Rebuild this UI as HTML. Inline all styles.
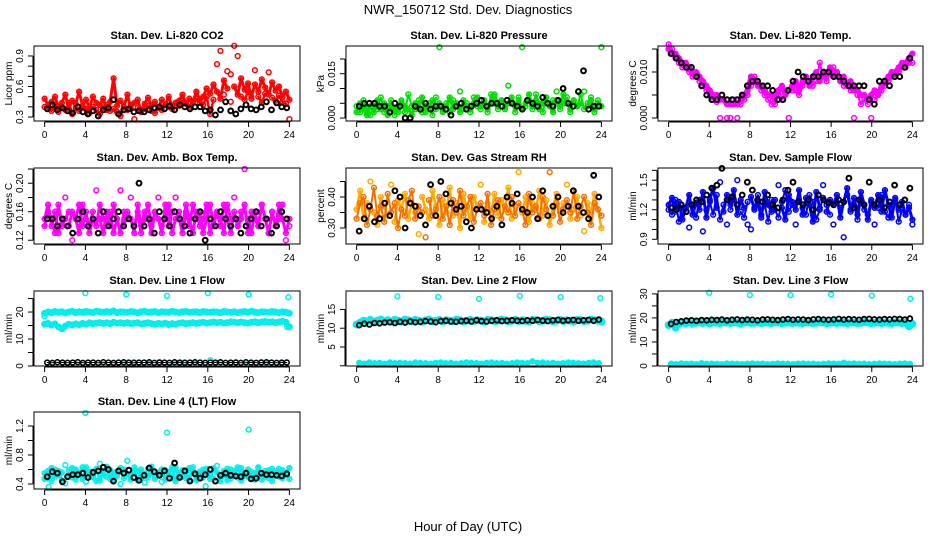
<!DOCTYPE html>
<html><head><meta charset="utf-8"><title>NWR_150712 Std. Dev. Diagnostics</title>
<style>
html,body{margin:0;padding:0;background:#fff;}
svg{display:block;font-family:"Liberation Sans",Arial,sans-serif;}
</style></head>
<body>
<svg id="chart" width="936" height="540" viewBox="0 0 936 540" xmlns="http://www.w3.org/2000/svg">
<rect x="0" y="0" width="936" height="540" fill="#fff"/>
<text x="468" y="14" text-anchor="middle" font-size="13">NWR_150712 Std. Dev. Diagnostics</text>
<text x="468" y="531" text-anchor="middle" font-size="13">Hour of Day (UTC)</text>
</svg>
<script>
// ---------- DATA ----------
const hourTicks = [0,4,8,12,16,20,24];

const co2Main = [0.48,0.42,0.45,0.50,0.40,0.44,0.52,0.38,0.46,0.43,0.55,0.41,0.47,0.39,0.50,0.44,0.42,0.48,0.37,0.45,0.68,0.41,0.46,0.40,0.52,0.38,0.44,0.47,0.36,0.43,0.49,0.41,0.45,0.39,0.47,0.42,0.50,0.40,0.44,0.46,0.52,0.43,0.48,0.45,0.55,0.47,0.50,0.58,0.53,0.62,0.55,0.48,0.66,0.58,0.72,0.60,0.52,0.68,0.57,0.63,0.50,0.62,0.55,0.67,0.59,0.52,0.64,0.56,0.60,0.50,0.55,0.47];
const co2Alt = [0.40,0.38,0.36,0.42,0.35,0.40,0.37,0.44,0.33,0.39,0.36,0.41,0.38,0.34,0.40,0.37,0.33,0.39,0.42,0.36,0.38,0.35,0.31,0.40,0.37,0.42,0.28,0.39,0.35,0.38,0.41,0.36,0.34,0.39,0.37,0.42,0.40,0.38,0.44,0.41,0.46,0.43,0.40,0.45,0.48,0.44,0.42,0.50,0.33,0.47,0.82,0.95,0.52,0.75,0.45,1.00,0.90,0.50,0.47,0.55,0.48,0.76,0.50,0.44,0.53,0.74,0.49,0.46,0.51,0.45,0.43,0.28];
const co2Black = [0.38,0.42,0.37,0.39,0.36,0.34,0.40,0.35,0.33,0.36,0.31,0.37,0.39,0.47,0.33,0.37,0.38,0.35,0.36,0.35,0.37,0.39,0.40,0.38,0.41,0.37,0.42,0.40,0.38,0.40,0.40,0.36,0.37,0.32,0.37,0.45,0.36,0.33,0.38,0.42,0.38,0.37,0.40,0.45,0.37,0.44,0.40,0.39];

const presMain = [0.004,0.002,0.006,0.003,0.001,0.005,0.003,0.007,0.002,0.004,0.006,0.001,0.003,0.005,0.002,0.008,0.004,0.003,0.006,0.002,0.004,0.005,0.001,0.007,0.024,0.003,0.005,0.002,0.006,0.004,0.009,0.003,0.005,0.002,0.007,0.004,0.003,0.006,0.002,0.008,0.005,0.003,0.006,0.004,0.011,0.005,0.002,0.007,0.024,0.004,0.006,0.003,0.008,0.005,0.002,0.007,0.004,0.006,0.009,0.003,0.005,0.007,0.002,0.006,0.004,0.008,0.003,0.005,0.007,0.002,0.006,0.024];
const presAlt = [0.002,0.005,0.003,0.001,0.004,0.002,0.006,0.003,0.005,0.001,0.004,0.003,0.002,0.006,0.004,0.003,0.001,0.005,0.003,0.007,0.002,0.004,0.006,0.003,0.005,0.002,0.004,0.007,0.003,0.005,0.002,0.006,0.004,0.003,0.005,0.007,0.004,0.006,0.003,0.005,0.008,0.004,0.006,0.003,0.005,0.007,0.004,0.006,0.003,0.005,0.008,0.004,0.006,0.003,0.005,0.007,0.004,0.002,0.006,0.004,0.008,0.005,0.003,0.006,0.004,0.005,0.009,0.004,0.006,0.003,0.005,0.004];
const presBlack = [0.004,0.005,0.005,0.005,0.004,0.004,0.002,0.005,0.004,0.000,0.000,0.004,0.003,0.005,0.003,0.004,0.004,0.003,0.001,0.004,0.005,0.003,0.004,0.005,0.006,0.004,0.005,0.005,0.004,0.006,0.005,0.004,0.003,0.006,0.005,0.004,0.007,0.005,0.004,0.006,0.010,0.005,0.004,0.009,0.016,0.003,0.004,0.004];

const tempMain = [0.015,0.014,0.014,0.013,0.012,0.012,0.011,0.010,0.010,0.009,0.008,0.007,0.006,0.005,0.005,0.004,0.004,0.003,0.003,0.003,0.003,0.004,0.005,0.006,0.009,0.008,0.007,0.007,0.006,0.005,0.005,0.004,0.006,0.007,0.005,0.006,0.007,0.008,0.006,0.008,0.009,0.007,0.009,0.010,0.008,0.010,0.009,0.011,0.009,0.010,0.008,0.009,0.007,0.008,0.006,0.006,0.005,0.005,0.004,0.005,0.006,0.005,0.007,0.008,0.009,0.010,0.010,0.011,0.012,0.012,0.013,0.014];
const tempAlt = [0.016,0.015,0.013,0.012,0.011,0.011,0.010,0.009,0.009,0.008,0.007,0.006,0.005,0.004,0.0035,0.0,0.004,0.0,0.0,0.004,0.0,0.003,0.004,0.005,0.007,0.009,0.008,0.006,0.005,0.004,0.003,0.003,0.005,0.004,0.006,0.0,0.006,0.006,0.005,0.007,0.008,0.008,0.007,0.008,0.012,0.009,0.008,0.010,0.011,0.009,0.008,0.007,0.007,0.006,0.0,0.005,0.003,0.004,0.003,0.0,0.004,0.005,0.006,0.007,0.008,0.009,0.009,0.010,0.011,0.011,0.012,0.012];
const tempBlack = [0.014,0.013,0.012,0.011,0.011,0.009,0.007,0.005,0.004,0.004,0.005,0.004,0.004,0.004,0.005,0.007,0.008,0.008,0.007,0.007,0.006,0.004,0.004,0.006,0.008,0.010,0.009,0.008,0.009,0.009,0.010,0.010,0.009,0.009,0.008,0.007,0.007,0.007,0.007,0.004,0.003,0.008,0.008,0.007,0.009,0.009,0.011,0.013];

const ambMain = [0.15,0.17,0.14,0.16,0.13,0.15,0.18,0.14,0.16,0.15,0.13,0.17,0.15,0.14,0.16,0.19,0.15,0.13,0.16,0.14,0.17,0.15,0.13,0.16,0.15,0.18,0.14,0.16,0.13,0.15,0.17,0.14,0.16,0.15,0.13,0.17,0.14,0.16,0.18,0.15,0.13,0.16,0.14,0.17,0.15,0.16,0.13,0.15,0.17,0.14,0.16,0.15,0.13,0.17,0.15,0.18,0.14,0.16,0.22,0.15,0.13,0.16,0.14,0.17,0.15,0.13,0.16,0.14,0.17,0.15,0.13,0.15];
const ambAlt = [0.14,0.16,0.15,0.13,0.17,0.14,0.15,0.16,0.12,0.15,0.17,0.14,0.16,0.13,0.15,0.14,0.17,0.15,0.14,0.16,0.13,0.15,0.19,0.14,0.16,0.15,0.13,0.17,0.14,0.16,0.15,0.13,0.16,0.18,0.14,0.15,0.17,0.13,0.15,0.16,0.14,0.17,0.15,0.13,0.16,0.14,0.15,0.17,0.13,0.15,0.16,0.14,0.17,0.15,0.13,0.16,0.14,0.15,0.17,0.13,0.16,0.15,0.14,0.17,0.15,0.13,0.16,0.14,0.15,0.17,0.12,0.14];
const ambBlack = [0.15,0.15,0.14,0.15,0.14,0.13,0.15,0.16,0.14,0.15,0.13,0.16,0.14,0.15,0.16,0.14,0.15,0.14,0.20,0.14,0.15,0.13,0.16,0.15,0.14,0.16,0.15,0.14,0.13,0.15,0.16,0.12,0.15,0.14,0.16,0.15,0.14,0.15,0.13,0.14,0.15,0.16,0.14,0.15,0.13,0.14,0.16,0.15];

const rhMain = [0.36,0.42,0.33,0.38,0.45,0.35,0.31,0.40,0.37,0.34,0.44,0.32,0.39,0.36,0.41,0.33,0.38,0.35,0.28,0.40,0.36,0.33,0.42,0.37,0.31,0.39,0.35,0.43,0.34,0.38,0.30,0.41,0.36,0.33,0.40,0.37,0.44,0.32,0.38,0.35,0.41,0.34,0.39,0.36,0.43,0.33,0.37,0.48,0.35,0.40,0.32,0.38,0.36,0.42,0.34,0.39,0.31,0.37,0.41,0.35,0.38,0.44,0.33,0.36,0.40,0.34,0.29,0.38,0.35,0.41,0.36,0.30];
const rhAlt = [0.33,0.38,0.40,0.31,0.36,0.43,0.34,0.37,0.32,0.41,0.35,0.38,0.30,0.36,0.34,0.39,0.42,0.33,0.37,0.35,0.27,0.39,0.34,0.36,0.40,0.33,0.37,0.31,0.39,0.35,0.42,0.34,0.37,0.40,0.32,0.36,0.38,0.34,0.41,0.31,0.36,0.39,0.33,0.37,0.35,0.40,0.34,0.38,0.36,0.31,0.41,0.35,0.37,0.33,0.40,0.36,0.48,0.34,0.38,0.32,0.36,0.39,0.35,0.42,0.33,0.37,0.40,0.35,0.31,0.38,0.36,0.34];
const rhBlack = [0.29,0.33,0.37,0.32,0.33,0.38,0.34,0.42,0.40,0.30,0.38,0.37,0.34,0.31,0.44,0.34,0.45,0.41,0.38,0.36,0.37,0.32,0.30,0.36,0.36,0.35,0.33,0.37,0.31,0.40,0.38,0.41,0.36,0.35,0.40,0.33,0.42,0.34,0.37,0.40,0.35,0.37,0.42,0.37,0.35,0.33,0.47,0.40];

const flowMain = [1.25,1.32,1.18,1.28,1.10,1.22,1.35,1.15,1.27,1.20,1.38,1.12,1.30,1.42,1.22,1.48,1.18,1.35,1.25,1.40,1.15,1.30,1.22,1.05,1.33,1.20,1.28,1.12,1.38,1.25,1.18,1.30,1.45,1.22,1.10,1.35,1.28,1.20,1.40,1.15,1.32,1.25,1.08,1.38,1.22,1.45,1.18,1.30,1.25,1.35,1.12,1.28,1.42,1.20,1.32,1.15,1.38,1.25,1.10,1.30,1.22,1.35,1.18,1.40,1.25,1.12,1.32,1.20,1.28,1.15,1.22,1.10];
const flowAlt = [1.20,1.15,1.30,1.08,1.22,1.18,1.02,1.25,1.12,1.30,0.98,1.20,1.28,1.15,1.35,1.10,1.25,1.05,1.20,1.30,1.50,1.18,1.12,1.28,1.00,1.22,1.35,1.15,1.25,1.08,1.30,1.20,1.12,1.28,1.40,1.18,1.25,1.05,1.30,1.22,1.15,1.35,1.28,1.10,1.20,1.32,1.25,1.15,1.05,1.28,1.22,0.92,1.35,1.18,1.25,1.10,1.30,1.20,1.15,1.28,1.05,1.22,1.35,1.18,1.12,1.25,1.30,1.08,1.20,1.15,1.25,1.05];
const flowBlack = [1.22,1.20,1.25,1.18,1.25,1.30,1.28,1.35,1.42,1.45,1.62,1.30,1.33,1.25,1.35,1.48,1.40,1.30,1.28,1.35,1.25,1.22,1.30,1.40,1.48,1.28,1.25,1.30,1.20,1.35,1.30,1.27,1.25,1.30,1.28,1.52,1.22,1.30,1.25,1.48,1.25,1.30,1.22,1.28,1.45,1.25,1.30,1.42];

const line1Upper = [19.5,20,19.8,20.2,19.9,20.1,19.7,20,20.3,19.8,20.1,19.9,20.2,20,19.8,20.3,20.1,19.9,20.2,20,20.4,19.8,20.1,20,19.9,20.2,20,19.7,20.1,20.3,19.9,20,20.2,19.8,20.1,20,19.9,20.3,20,19.8,20.1,20.2,19.9,20,20.1,19.8,20.2,20,19.9,20.1,20,19.8,20.2,20,19.9,20.1,19.8,20,20.2,19.9,20.3,20,19.8,20.1,20,19.9,20.2,20,19.8,20.1,19.9,19.6];
const line1Lower = [15.5,15.8,15.2,15.6,14.5,13.8,14.8,15.5,15.2,15.6,15.3,15.8,15.5,16,15.7,15.9,16.1,15.8,16,15.7,16.2,15.9,16,15.8,16.1,15.7,15.9,16,15.6,15.8,16,15.7,15.5,15.8,15.6,15.9,15.4,15.7,15.5,15.9,16,15.7,15.9,16.1,15.8,16,16.2,15.9,16.1,16.3,16,16.2,15.9,16.1,16.4,16.2,16,16.3,16.1,15.9,16.2,16.4,16.1,16.3,16.5,16.2,16.4,16.1,16.3,16.6,16.2,14.5];
const line1Base = [1.2,1,1.4,1.1,1.3,1.2,1.5,1,1.2,1.3,1.1,1.4,1.2,1,1.3,1.2,1.1,1.4,1.2,1.3,1,1.2,1.5,1.1,1.3,1.2,1,1.4,1.2,1.1,1.3,1.2,2.2,1,1.3,1.2,1.1,1.4,1.2,1.3,1,1.2,1.5,1.1,1.3,1.2,1,1.4];
const line1Black = [1.3,1.2,1.4,1.3,1.2,1.3,1.4,1.2,1.3,1.3,1.2,1.4,1.3,1.2,1.3,1.4,1.3,1.2,1.3,1.3,1.4,1.2,1.3,1.3,1.2,1.4,1.3,1.2,1.3,1.4,1.3,1.2,1.3,1.3,1.4,1.2,1.3,1.3,1.2,1.4,1.3,1.2,1.3,1.4,1.3,1.2,1.3,1.3];
const line1OutHours = [0,4,8,12,16,20,23.9,23.8];
const line1OutVals = [18.5,27,26.5,26,27,26.5,25.5,14.5];

const line2Band = [11,11.5,12,11.8,12.2,11.6,12,12.3,11.9,12.1,11.7,12.2,12,11.8,12.3,12.1,11.9,12.2,12,11.7,12.1,12.3,11.9,12,12.2,11.8,12.1,12,11.9,12.3,12.1,11.8,12,12.2,11.9,12.1,12,11.8,12.2,12.1,11.9,12,12.3,12.1,11.8,12,12.2,11.9,12.1,12,11.8,12.2,12.1,11.9,12,12.3,12.1,11.8,12,12.2,11.9,12.1,12,11.8,12.2,12.1,11.9,12,12.3,12.1,12,11.8];
const line2Base = [0.8,0.6,0.9,0.7,0.8,0.6,0.9,0.7,0.8,0.7,0.6,0.9,0.8,0.7,0.6,0.8,0.9,0.7,0.8,0.6,0.7,0.9,0.8,0.7,0.6,0.8,0.9,0.7,0.8,0.6,0.7,0.9,0.8,0.7,1.2,0.8,0.9,0.7,0.8,0.6,0.7,0.9,0.8,0.7,0.6,0.8,0.9,0.7];
const line2Black = [10.8,11.2,11,11.4,11.3,11.5,11.6,11.4,11.7,11.5,11.8,11.6,11.7,11.9,11.8,11.6,11.9,12,11.8,11.7,11.9,12,11.8,12.1,11.9,11.8,12,12.1,11.9,12,12.1,12,11.9,12.1,12,12.2,12,11.9,12.1,12.2,12,12.1,12.2,12,12.1,12.2,12,12.3];
const line2OutHours = [4,8,12,16,20,23.9];
const line2OutVals = [18.5,18.3,17.8,18.6,18.3,18];

const line3Band = [17,18,16,17.5,18,17.8,18.2,17.6,18,18.3,17.9,18.1,17.7,18.2,18,17.8,18.3,18.1,17.9,18.2,18,17.7,18.1,18.3,17.9,18,18.2,17.8,18.1,18,17.9,18.3,18.1,17.8,18,18.2,17.9,18.1,18,17.8,18.2,18.1,17.9,18,18.3,18.1,17.8,18,18.2,17.9,18.1,18,17.8,18.2,18.1,17.9,18,18.3,18.1,17.8,18,18.2,17.9,18.1,18,17.8,18.2,18.1,17.9,18,16.5,17.5];
const line3Base = [1,0.8,1.1,0.9,1,0.8,1.2,0.9,1,0.9,0.8,1.1,1,0.9,0.8,1,1.1,0.9,1,0.8,0.9,1.1,1,0.9,0.8,1,1.1,0.9,1,0.8,0.9,1.1,1,0.9,1.4,1,1.1,0.9,1,0.8,0.9,1.1,1,0.9,0.8,1,1.1,0.9];
const line3Black = [17.5,18.3,18.6,18.9,19,18.8,19.1,19,19.2,19.1,19.3,19,19.2,19.4,19.1,19.3,19.2,19,19.3,19.4,19.2,19.1,19.3,19.5,19.2,19.4,19.3,19.1,19.4,19.5,19.3,19.2,19.4,19.6,19.3,19.5,19.4,19.2,19.5,19.6,19.4,19.3,19.5,19.4,19.6,19.5,19.3,19.7];
const line3OutHours = [4,8,12,16,20,23.8];
const line3OutVals = [30.5,29.5,29.5,29.8,29.3,28];

const line4Band = [0.55,0.48,0.62,0.50,0.58,0.45,0.66,0.52,0.49,0.60,0.54,0.47,0.63,0.51,0.57,0.44,0.68,0.53,0.50,0.59,0.46,0.55,0.62,0.48,0.72,0.52,0.57,0.45,0.60,0.54,0.49,0.64,0.51,0.56,0.43,0.59,0.53,0.48,0.62,0.55,0.50,0.58,0.46,0.63,0.52,0.57,0.49,0.61,0.54,0.47,0.65,0.51,0.58,0.45,0.60,0.53,0.49,0.62,0.55,0.50,0.57,0.46,0.63,0.52,0.58,0.48,0.61,0.54,0.50,0.59,0.53,0.47];
const line4Alt = [0.47,0.58,0.44,0.60,0.52,0.56,0.41,0.59,0.62,0.46,0.55,0.63,0.43,0.57,0.49,0.61,0.45,0.58,0.64,0.47,0.56,0.51,0.40,0.60,0.54,0.46,0.63,0.58,0.48,0.42,0.61,0.55,0.47,0.52,0.60,0.46,0.57,0.63,0.44,0.51,0.59,0.48,0.62,0.55,0.45,0.50,0.60,0.53,0.47,0.62,0.56,0.44,0.52,0.61,0.48,0.58,0.63,0.45,0.51,0.60,0.47,0.55,0.62,0.46,0.50,0.59,0.44,0.57,0.61,0.48,0.55,0.62];
const line4Black = [0.50,0.57,0.55,0.43,0.50,0.53,0.53,0.55,0.49,0.56,0.58,0.63,0.60,0.44,0.58,0.55,0.59,0.49,0.45,0.52,0.62,0.57,0.52,0.58,0.48,0.69,0.49,0.58,0.44,0.54,0.48,0.53,0.60,0.44,0.52,0.55,0.52,0.51,0.50,0.55,0.47,0.48,0.55,0.53,0.53,0.52,0.51,0.54];
const line4OutHours = [4,12,20,0.4,15.8];
const line4OutVals = [1.38,1.11,1.15,0.36,0.37];

// ---------- DRAWING ----------
const NS = "http://www.w3.org/2000/svg";
const svg = document.getElementById("chart");
const COLS = [[34,300],[346,612],[658,923]];
const ROWS = [[46,121],[168,244],[291,366],[412,489]];

function mk(tag, parent){ const e=document.createElementNS(NS,tag); parent.appendChild(e); return e; }

function panel(cfg){
  const [x0b,x1b]=COLS[cfg.col], [y0b,y1b]=ROWS[cfg.row];
  const g = mk("g", svg);
  
  
  const xs = h => x0b + (x1b-x0b)*(0.04 + 0.92*h/24);
  const ys = v => y1b - (v-cfg.ymin)/(cfg.ymax-cfg.ymin)*(y1b-y0b);
  const t = mk("text", g);
  
  
  t.setAttribute("x",(x0b+x1b)/2); t.setAttribute("y",y0b-7);
  t.setAttribute("text-anchor","middle"); t.setAttribute("font-size","11"); t.setAttribute("font-weight","bold");
  t.textContent = cfg.title;
  function pts(vals, xfun, color, sw, r, nm, dense, lo, hi){
    const sg = mk("g", g);
    
    
    sg.setAttribute("fill","none"); sg.setAttribute("stroke",color); sg.setAttribute("stroke-width",sw);
    if (dense){
      let d = "", pen = false;
      vals.forEach((v,i)=>{
        if (v < lo || v > hi){ pen = false; return; }
        d += (pen ? " L" : " M") + xs(xfun(i)).toFixed(1) + " " + ys(v).toFixed(1);
        pen = true;
      });
      const pl = mk("path", sg);
      
      
      pl.setAttribute("d", d.trim());
      pl.setAttribute("stroke-width", dense);
      pl.setAttribute("stroke-linejoin","round");
      pl.setAttribute("stroke-linecap","round");
    }
    vals.forEach((v,i)=>{
      const c = mk("circle", sg);
      
      
      c.setAttribute("cx", xs(xfun(i)).toFixed(1));
      c.setAttribute("cy", ys(v).toFixed(1));
      c.setAttribute("r", r);
    });
  }
  const idxFull = n => i => i*24/(n-1);
  const idxHalf = i => (i+0.5)*0.5;
  cfg.series.forEach(s=>{
    const lo = s.lo!==undefined ? s.lo : -Infinity, hi = s.hi!==undefined ? s.hi : Infinity;
    if (s.hours) pts(s.vals, i=>s.hours[i], s.color, s.sw||1.5, s.r||2.4, s.nm, 0, lo, hi);
    else if (s.half) pts(s.vals, idxHalf, s.color, s.sw||1.5, s.r||2.4, s.nm, s.dense||0, lo, hi);
    else pts(s.vals, idxFull(s.vals.length), s.color, s.sw||1.5, s.r||2.4, s.nm, s.dense||0, lo, hi);
  });
  const b = mk("rect", g);
  
  
  b.setAttribute("x",x0b); b.setAttribute("y",y0b); b.setAttribute("width",x1b-x0b); b.setAttribute("height",y1b-y0b);
  b.setAttribute("fill","none"); b.setAttribute("stroke","#000"); b.setAttribute("stroke-width","1");
  const xa = mk("g", g);
  
  
  const xl = mk("line", xa);
  xl.setAttribute("x1",xs(0)); xl.setAttribute("x2",xs(24)); xl.setAttribute("y1",y1b+1); xl.setAttribute("y2",y1b+1); xl.setAttribute("stroke","#000");
  hourTicks.forEach(h=>{
    const tk = mk("line", xa);
    
    
    tk.setAttribute("x1",xs(h)); tk.setAttribute("x2",xs(h)); tk.setAttribute("y1",y1b+1); tk.setAttribute("y2",y1b+6); tk.setAttribute("stroke","#000");
    const tl = mk("text", xa);
    
    
    tl.setAttribute("x",xs(h)); tl.setAttribute("y",y1b+17); tl.setAttribute("text-anchor","middle"); tl.setAttribute("font-size","10");
    tl.textContent = h;
  });
  const ya = mk("g", g);
  
  
  const ax = x0b-1;
  const yl = mk("line", ya);
  yl.setAttribute("x1",ax); yl.setAttribute("x2",ax);
  yl.setAttribute("y1",ys(cfg.yticks[0])); yl.setAttribute("y2",ys(cfg.yticks[cfg.yticks.length-1])); yl.setAttribute("stroke","#000");
  cfg.yticks.forEach(v=>{
    const tk = mk("line", ya);
    
    
    tk.setAttribute("x1",ax-5); tk.setAttribute("x2",ax); tk.setAttribute("y1",ys(v)); tk.setAttribute("y2",ys(v)); tk.setAttribute("stroke","#000");
  });
  cfg.ylabels.forEach(lab=>{
    const tl = mk("text", ya);
    
    
    const yy = ys(parseFloat(lab)), xx = x0b-11;
    tl.setAttribute("x",xx); tl.setAttribute("y",yy); tl.setAttribute("text-anchor","middle"); tl.setAttribute("font-size","10");
    tl.setAttribute("transform",`rotate(-90 ${xx} ${yy})`);
    tl.textContent = lab;
  });
  const yt = mk("text", g);
  
  
  const tx = x0b-22, ty=(y0b+y1b)/2;
  yt.setAttribute("x",tx); yt.setAttribute("y",ty); yt.setAttribute("text-anchor","middle"); yt.setAttribute("font-size","10");
  yt.setAttribute("transform",`rotate(-90 ${tx} ${ty})`);
  yt.textContent = cfg.ytitle;
}

panel({name:"panel-co2",col:0,row:0,title:"Stan. Dev. Li-820 CO2",ytitle:"Licor ppm",ymin:0.261,ymax:0.998,
  yticks:[0.3,0.4,0.5,0.6,0.7,0.8,0.9],ylabels:["0.3","0.6","0.9"],
  series:[{vals:co2Main,color:"#ff0000",nm:"co2-series-a",dense:3,hi:0.7},{vals:co2Alt,color:"#ff0000",nm:"co2-series-b",dense:2.5,hi:0.6,lo:0.3},{vals:co2Black,color:"#000",half:true,sw:2,nm:"co2-reference-series"}]});
panel({name:"panel-pressure",col:1,row:0,title:"Stan. Dev. Li-820 Pressure",ytitle:"kPa",ymin:-0.001,ymax:0.0244,
  yticks:[0,0.005,0.010,0.015,0.020],ylabels:["0.000","0.015"],
  series:[{vals:presMain,color:"#00dd00",nm:"pressure-series-a",dense:2,hi:0.0085},{vals:presAlt,color:"#00dd00",nm:"pressure-series-b",dense:3,hi:0.0085},{vals:presBlack,color:"#000",half:true,sw:2,nm:"pressure-reference-series"}]});
panel({name:"panel-temp",col:2,row:0,title:"Stan. Dev. Li-820 Temp.",ytitle:"degrees C",ymin:-0.00065,ymax:0.01565,
  yticks:[0,0.005,0.010,0.015],ylabels:["0.000","0.010"],
  series:[{vals:tempMain,color:"#ff00ff",nm:"temp-series-a",dense:5},{vals:tempAlt,color:"#ff00ff",nm:"temp-series-b",dense:2,lo:0.001},{vals:tempBlack,color:"#000",half:true,sw:2,nm:"temp-reference-series"}]});
panel({name:"panel-amb-box-temp",col:0,row:1,title:"Stan. Dev. Amb. Box Temp.",ytitle:"degrees C",ymin:0.1147,ymax:0.2214,
  yticks:[0.12,0.14,0.16,0.18,0.20,0.22],ylabels:["0.12","0.16","0.20"],
  series:[{vals:ambMain,color:"#ff00ff",nm:"amb-series-a",dense:3,hi:0.175},{vals:ambAlt,color:"#ff00ff",nm:"amb-series-b",dense:3,hi:0.175,lo:0.125},{vals:ambBlack,color:"#000",half:true,sw:2,nm:"amb-reference-series"}]});
panel({name:"panel-gas-rh",col:1,row:1,title:"Stan. Dev. Gas Stream RH",ytitle:"percent",ymin:0.2484,ymax:0.4935,
  yticks:[0.30,0.35,0.40,0.45],ylabels:["0.30","0.40"],
  series:[{vals:rhMain,color:"#ffaa00",nm:"rh-series-a",dense:2.5,hi:0.43,lo:0.3},{vals:rhAlt,color:"#f07000",nm:"rh-series-b",dense:2,hi:0.43,lo:0.3},{vals:rhBlack,color:"#000",half:true,sw:2,nm:"rh-reference-series"}]});
panel({name:"panel-sample-flow",col:2,row:1,title:"Stan. Dev. Sample Flow",ytitle:"ml/min",ymin:0.852,ymax:1.624,
  yticks:[0.9,1.0,1.1,1.2,1.3,1.4,1.5,1.6],ylabels:["0.9","1.2","1.5"],
  series:[{vals:flowMain,color:"#0000ff",nm:"flow-series-a",dense:3,hi:1.42,lo:1.08},{vals:flowAlt,color:"#0000ff",nm:"flow-series-b",dense:2,hi:1.42,lo:1.08},{vals:flowBlack,color:"#000",half:true,sw:2,nm:"flow-reference-series"}]});
panel({name:"panel-line1",col:0,row:2,title:"Stan. Dev. Line 1 Flow",ytitle:"ml/min",ymin:0,ymax:27.8,
  yticks:[0,5,10,15,20,25],ylabels:["0","10","20"],
  series:[{vals:line1Upper,color:"#00eeee",r:2.6,sw:1.8,nm:"line1-upper-band",dense:5},{vals:line1Lower,color:"#00eeee",r:2.6,sw:1.8,nm:"line1-lower-band",dense:5},
          {vals:line1Base,color:"#00eeee",half:true,nm:"line1-base"},{vals:line1Black,color:"#000",half:true,nm:"line1-reference-series",dense:1},
          {vals:line1OutVals,hours:line1OutHours,color:"#00eeee",nm:"line1-outliers"}]});
panel({name:"panel-line2",col:1,row:2,title:"Stan. Dev. Line 2 Flow",ytitle:"ml/min",ymin:-0.05,ymax:19.9,
  yticks:[0,5,10,15],ylabels:["5","10","15"],
  series:[{vals:line2Band,color:"#00eeee",r:3,sw:2,nm:"line2-band",dense:6},{vals:line2Base,color:"#00eeee",half:true,nm:"line2-base",dense:4},
          {vals:line2Black,color:"#000",half:true,sw:1.8,nm:"line2-reference-series"},{vals:line2OutVals,hours:line2OutHours,color:"#00eeee",nm:"line2-outliers"}]});
panel({name:"panel-line3",col:2,row:2,title:"Stan. Dev. Line 3 Flow",ytitle:"ml/min",ymin:0,ymax:31.2,
  yticks:[0,5,10,15,20,25,30],ylabels:["0","10","20","30"],
  series:[{vals:line3Band,color:"#00eeee",r:3,sw:2,nm:"line3-band",dense:6},{vals:line3Base,color:"#00eeee",half:true,nm:"line3-base",dense:4},
          {vals:line3Black,color:"#000",half:true,sw:1.8,nm:"line3-reference-series"},{vals:line3OutVals,hours:line3OutHours,color:"#00eeee",nm:"line3-outliers"}]});
panel({name:"panel-line4",col:0,row:3,title:"Stan. Dev. Line 4 (LT) Flow",ytitle:"ml/min",ymin:0.331,ymax:1.393,
  yticks:[0.4,0.6,0.8,1.0,1.2],ylabels:["0.4","0.8","1.2"],
  series:[{vals:line4Band,color:"#00eeee",nm:"line4-series-a",dense:3,hi:0.64,lo:0.44},{vals:line4Alt,color:"#00eeee",nm:"line4-series-b",dense:3,hi:0.64,lo:0.44},
          {vals:line4Black,color:"#000",half:true,sw:2,nm:"line4-reference-series"},{vals:line4OutVals,hours:line4OutHours,color:"#00eeee",nm:"line4-outliers"}]});
</script>
</body></html>
